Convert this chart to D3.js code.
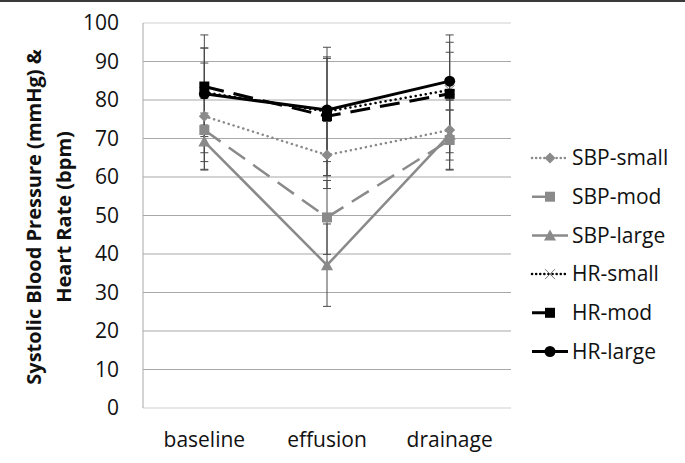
<!DOCTYPE html>
<html>
<head>
<meta charset="utf-8">
<script src="https://cdn.jsdelivr.net/npm/d3@7"></script>
<style>
  body { margin: 0; background: #fff; }
  text { font-family: "Open Sans", sans-serif; }
</style>
</head>
<body>
<svg id="svgElement" width="685" height="463"></svg>
<script>
const categories = ["baseline", "effusion", "drainage"];
const seriesNames = ["SBP-small", "SBP-mod", "SBP-large", "HR-small", "HR-mod", "HR-large"];
const sbpSmall = [75.8, 65.7, 72.2];
const sbpMod = [72.2, 49.5, 69.6];
const sbpLarge = [69.2, 37.1, 71.0];
const hrSmall = [82.0, 77.0, 82.6];
const hrMod = [83.5, 75.8, 81.6];
const hrLarge = [81.6, 77.4, 84.9];
const sbpSmallErr = [13.8, 8.7, 7.8];
const sbpModErr = [8.2, 9.6, 7.8];
const sbpLargeErr = [7.4, 10.7, 9.0];
const hrSmallErr = [11.5, 16.7, 12.4];
const hrModErr = [10.0, 15.4, 15.3];
const hrLargeErr = [15.3, 13.4, 7.5];
const yTicks = [0, 10, 20, 30, 40, 50, 60, 70, 80, 90, 100];

const svg = d3.select("#svgElement");
const gray = "#8a8a8a";

const x = d3.scaleBand().domain(categories).range([143, 511]);
const y = d3.scaleLinear().domain([0, 100]).range([408, 23]);
const cx = (c) => x(c) + x.bandwidth() / 2;

const styles = [
  { color: gray, dash: "0.1 5", width: 2.5, marker: "diamond" },
  { color: gray, dash: "20 10", width: 2.5, marker: "square" },
  { color: gray, dash: null, width: 2.5, marker: "triangle" },
  { color: "#000", dash: "0.1 5", width: 2.5, marker: "x" },
  { color: "#000", dash: "20 10", width: 3, marker: "square" },
  { color: "#000", dash: null, width: 3, marker: "circle" },
];

const values = [sbpSmall, sbpMod, sbpLarge, hrSmall, hrMod, hrLarge];
const errors = [sbpSmallErr, sbpModErr, sbpLargeErr, hrSmallErr, hrModErr, hrLargeErr];

// top border
svg.append("rect").attr("x", 0).attr("y", 0).attr("width", 685).attr("height", 2).attr("fill", "#3a3a3a");

// gridlines
svg.append("g")
  .selectAll("line")
  .data(yTicks)
  .join("line")
  .attr("x1", 143)
  .attr("x2", 511)
  .attr("y1", (d) => y(d))
  .attr("y2", (d) => y(d))
  .attr("stroke", (d) => (d === 0 || d === 100 ? "#cfcfcf" : "#a8a8a8"))
  .attr("stroke-width", 1);

// y axis line
svg.append("line")
  .attr("x1", 143).attr("x2", 143)
  .attr("y1", y(100)).attr("y2", y(0))
  .attr("stroke", "#a8a8a8");

// y tick labels
svg.append("g")
  .selectAll("text")
  .data(yTicks)
  .join("text")
  .attr("x", 119)
  .attr("y", (d) => y(d))
  .attr("dy", "0.35em")
  .attr("text-anchor", "end")
  .attr("font-size", 21)
  .attr("fill", "#111")
  .text((d) => d);

// category labels
svg.append("g")
  .selectAll("text")
  .data(categories)
  .join("text")
  .attr("x", (d) => cx(d))
  .attr("y", 447)
  .attr("text-anchor", "middle")
  .attr("font-size", 21)
  .attr("fill", "#111")
  .text((d) => d);

// y title
const title = svg.append("text")
  .attr("transform", "translate(34,217) rotate(-90)")
  .attr("text-anchor", "middle")
  .attr("font-size", 20)
  .attr("font-weight", "bold")
  .attr("fill", "#111");
title.append("tspan").attr("x", 0).attr("dy", "0.35em").text("Systolic Blood Pressure (mmHg) &");
title.append("tspan").attr("x", 0).attr("dy", 30).text("Heart Rate (bpm)");

// error bars
values.forEach((vals, i) => {
  const g = svg.append("g").attr("stroke", "#4a4a4a").attr("stroke-width", 1);
  categories.forEach((c, j) => {
    const hi = y(vals[j] + errors[i][j]);
    const lo = y(vals[j] - errors[i][j]);
    g.append("line").attr("x1", cx(c)).attr("x2", cx(c)).attr("y1", hi).attr("y2", lo);
    g.append("line").attr("x1", cx(c) - 4).attr("x2", cx(c) + 4).attr("y1", hi).attr("y2", hi);
    g.append("line").attr("x1", cx(c) - 4).attr("x2", cx(c) + 4).attr("y1", lo).attr("y2", lo);
  });
});

const drawMarker = (g, type, px, py, color) => {
  if (type === "diamond") {
    g.append("path").attr("d", `M${px},${py - 5.5}L${px + 5.5},${py}L${px},${py + 5.5}L${px - 5.5},${py}Z`).attr("fill", color);
  } else if (type === "square") {
    g.append("rect").attr("x", px - 5).attr("y", py - 5).attr("width", 10).attr("height", 10).attr("fill", color);
  } else if (type === "triangle") {
    g.append("path").attr("d", `M${px},${py - 6}L${px + 6},${py + 5}L${px - 6},${py + 5}Z`).attr("fill", color);
  } else if (type === "circle") {
    g.append("circle").attr("cx", px).attr("cy", py).attr("r", 5.5).attr("fill", color);
  } else if (type === "x") {
    g.append("path").attr("d", `M${px - 5},${py - 5}L${px + 5},${py + 5}M${px - 5},${py + 5}L${px + 5},${py - 5}`)
      .attr("stroke", "#777").attr("stroke-width", 1);
  }
};

const line = d3.line().x((d) => cx(d.c)).y((d) => y(d.v));

// series
values.forEach((vals, i) => {
  const s = styles[i];
  const pts = categories.map((c, j) => ({ c: c, v: vals[j] }));
  const g = svg.append("g");
  g.append("path")
    .attr("d", line(pts))
    .attr("fill", "none")
    .attr("stroke", s.color)
    .attr("stroke-width", s.width)
    .attr("stroke-linecap", s.dash === "0.1 5" ? "round" : "butt")
    .attr("stroke-dasharray", s.dash);
  pts.forEach((p) => drawMarker(g, s.marker, cx(p.c), y(p.v), s.color));
});

// legend
seriesNames.forEach((name, i) => {
  const s = styles[i];
  const ly = 158 + i * 38.7;
  const g = svg.append("g");
  g.append("line")
    .attr("x1", 532).attr("x2", 568).attr("y1", ly).attr("y2", ly)
    .attr("stroke", s.color)
    .attr("stroke-width", s.width)
    .attr("stroke-linecap", s.dash === "0.1 5" ? "round" : "butt")
    .attr("stroke-dasharray", s.dash === "20 10" ? "13 5 4 20" : s.dash === "0.1 5" ? "0.1 4" : null);
  drawMarker(g, s.marker, 550, ly, s.color);
  g.append("text")
    .attr("x", 572)
    .attr("y", ly)
    .attr("dy", "0.35em")
    .attr("font-size", 21)
    .attr("fill", "#111")
    .text(name);
});
</script>
</body>
</html>
